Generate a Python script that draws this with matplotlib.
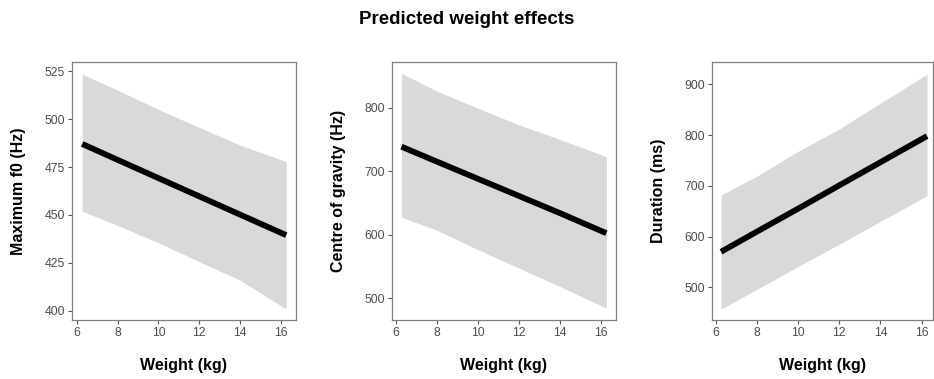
import numpy as np
import matplotlib
matplotlib.use("Agg")
import matplotlib.pyplot as plt

weight = [6.26, 8, 10, 12, 14, 16.26]

# Maximum f0 (Hz)
f0_fit = [487, 478.7, 469.2, 459.7, 450.2, 439.5]
f0_upper = [523.4, 515, 505, 495.6, 486.4, 477.8]
f0_lower = [452, 444.5, 435.5, 425.7, 416, 401]

# Centre of gravity (Hz)
cog_fit = [738.7, 715, 688, 661, 634, 602.5]
cog_upper = [854, 826, 799, 773, 750, 723]
cog_lower = [627.7, 607, 576.5, 547.5, 518.6, 484.6]

# Duration (ms)
dur_fit = [570, 609.7, 655, 700.9, 746.5, 798]
dur_upper = [682, 719, 768, 812, 863, 920]
dur_lower = [457, 496, 541, 585, 630, 680.5]

ylabels = ["Maximum f0 (Hz)", "Centre of gravity (Hz)", "Duration (ms)"]
yticks = [[400, 425, 450, 475, 500, 525], [500, 600, 700, 800], [500, 600, 700, 800, 900]]
ylims = [(395.3, 529.7), (465.9, 871.9), (435.6, 944)]
xlims = [(5.76, 16.74), (5.8, 16.73), (5.82, 16.55)]

plt.rcParams['font.family'] = ['Liberation Sans', 'DejaVu Sans']

fig = plt.figure(figsize=(9.34, 3.79), dpi=100)
W, H = 934, 379
# axes boxes in pixels: left, right, top, bottom
boxes = [(72, 296, 62, 320), (392, 616, 62, 320), (712, 933, 62, 320)]

panels = [(f0_fit, f0_upper, f0_lower), (cog_fit, cog_upper, cog_lower),
          (dur_fit, dur_upper, dur_lower)]

for i, (fit, up, lo) in enumerate(panels):
    l, r, t, b = boxes[i]
    ax = fig.add_axes([l / W, 1 - b / H, (r - l) / W, (b - t) / H])
    ax.fill_between(weight, lo, up, color='#d9d9d9', linewidth=0)
    ax.plot(weight, fit, color='black', linewidth=4.2, solid_capstyle='butt')
    ax.set_xlim(*xlims[i])
    ax.set_ylim(*ylims[i])
    ax.set_xticks([6, 8, 10, 12, 14, 16])
    ax.set_yticks(yticks[i])
    ax.tick_params(length=3, width=0.8, color='#555555', labelcolor='#4d4d4d',
                   labelsize=8.8, pad=2)
    for s in ax.spines.values():
        s.set_color('#7f7f7f')
        s.set_linewidth(0.9)
    ax.set_xlabel("Weight (kg)", fontsize=11.5, fontweight='bold', labelpad=14)
    ax.set_ylabel(ylabels[i], fontsize=11.5, fontweight='bold', labelpad=13)

fig.suptitle("Predicted weight effects", fontsize=13.5, fontweight='bold',
             x=0.5, y=0.97)

fig.savefig("out.png", dpi=100)
